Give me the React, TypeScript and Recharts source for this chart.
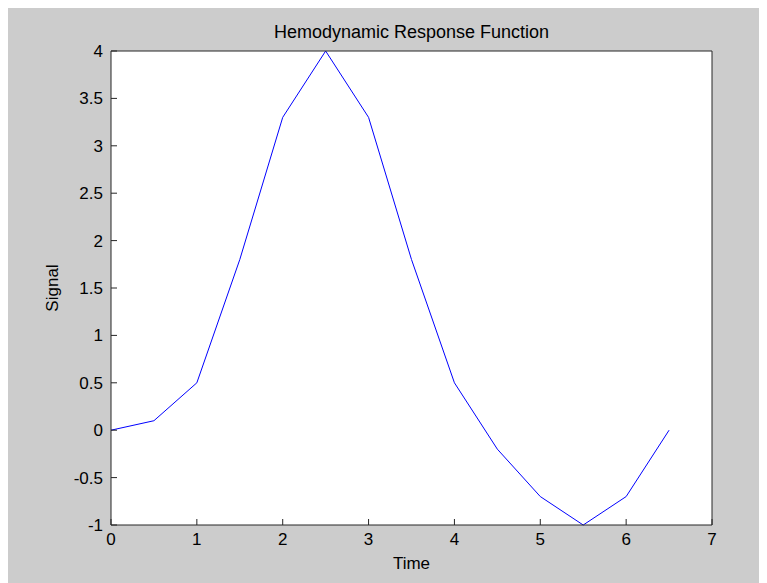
import React from 'react';
import { LineChart, Line, XAxis, YAxis, CartesianGrid } from 'recharts';

// HRF samples, every 0.5 s
const times = [0, 0.5, 1, 1.5, 2, 2.5, 3, 3.5, 4, 4.5, 5, 5.5, 6, 6.5];
const signal = [0, 0.1, 0.5, 1.8, 3.3, 4, 3.3, 1.8, 0.5, -0.2, -0.7, -1, -0.7, 0];

const xTicks = [0, 1, 2, 3, 4, 5, 6, 7];
const yTicks = [-1, -0.5, 0, 0.5, 1, 1.5, 2, 2.5, 3, 3.5, 4];

const data = times.map((t, i) => ({ t, signal: signal[i] }));

const FONT = '"Liberation Sans", Arial, Helvetica, sans-serif';
const AXIS = '#262626';
const tickStyle = { fontSize: 17, fill: '#000', fontFamily: FONT };

const App: React.FC = () => {
  return (
    <div style={{ width: 759, height: 575, background: '#cccccc', fontFamily: FONT }}>
      <LineChart width={759} height={575} data={data} margin={{ top: 0, right: 54, bottom: 0, left: 0 }}>
        <CartesianGrid horizontal={false} vertical={false} fill="#fff" stroke="none" />
        <XAxis
          dataKey="t"
          type="number"
          domain={[0, 7]}
          ticks={xTicks}
          height={58}
          stroke={AXIS}
          tickSize={-6}
          tickMargin={14}
          tick={tickStyle}
          label={{ value: 'Time', position: 'insideBottom', offset: 14, fill: '#000', fontSize: 17, fontFamily: FONT }}
        />
        <XAxis
          xAxisId="top"
          orientation="top"
          dataKey="t"
          type="number"
          domain={[0, 7]}
          ticks={xTicks}
          height={43}
          stroke={AXIS}
          tickSize={-6}
          tick={false}
          label={{ value: 'Hemodynamic Response Function', position: 'insideTop', offset: 17, fill: '#000', fontSize: 18, fontFamily: FONT }}
        />
        <YAxis
          type="number"
          domain={[-1, 4]}
          ticks={yTicks}
          width={103}
          stroke={AXIS}
          tickSize={-6}
          tickMargin={14}
          tick={tickStyle}
          label={{ value: 'Signal', angle: -90, position: 'center', dx: -8, fill: '#000', fontSize: 17, fontFamily: FONT }}
        />
        <YAxis
          yAxisId="right"
          orientation="right"
          type="number"
          domain={[-1, 4]}
          ticks={yTicks}
          width={1}
          stroke={AXIS}
          tickSize={-6}
          tick={false}
        />
        <Line
          type="linear"
          dataKey="signal"
          stroke="#0000ff"
          strokeWidth={1}
          dot={false}
          isAnimationActive={false}
        />
      </LineChart>
    </div>
  );
};

export default App;
